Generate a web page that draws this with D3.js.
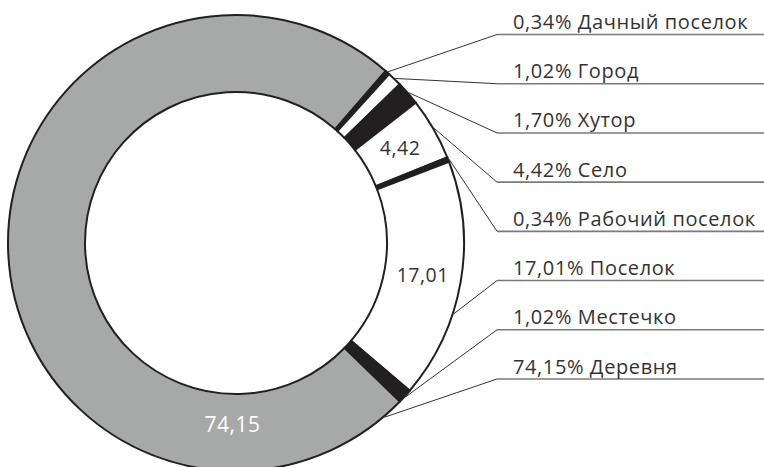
<!DOCTYPE html>
<html>
<head>
<meta charset="utf-8">
<script src="https://cdn.jsdelivr.net/npm/d3@7"></script>
<style>
  body { margin: 0; background: #fff; }
  svg text { font-family: "Open Sans", sans-serif; }
</style>
</head>
<body>
<svg id="chart" width="764" height="467"></svg>
<script>
// data (order clockwise from the top-right)
var names  = ["Дачный поселок", "Город", "Хутор", "Село", "Рабочий поселок", "Поселок", "Местечко", "Деревня"];
var shares = [0.34, 1.02, 1.70, 4.42, 0.34, 17.01, 1.02, 74.15];
var fills  = ["#231f20", "#ffffff", "#231f20", "#ffffff", "#231f20", "#ffffff", "#231f20", "#a7a9a9"];
// slices that carry their value inside the ring
var inside = ["Село", "Поселок", "Деревня"];

var fmt = function(v) { return v.toFixed(2).replace(".", ","); };
var rad = function(deg) { return deg * Math.PI / 180; };

var svg = d3.select("#chart");
var cx = 236, cy = 243, rOut = 228, rIn = 151;
var start = rad(41);

var pie = d3.pie().sort(null).value(function(d) { return d; })
    .startAngle(start).endAngle(start + 2 * Math.PI);
var arcs = pie(shares);

var arc = d3.arc().innerRadius(rIn).outerRadius(rOut);

var g = svg.append("g").attr("transform", "translate(" + cx + "," + cy + ")");

g.selectAll("path.slice")
  .data(arcs)
  .enter().append("path")
    .attr("class", "slice")
    .attr("d", arc)
    .attr("fill", function(d, i) { return fills[i]; })
    .attr("stroke", "#231f20")
    .attr("stroke-width", 2)
    .attr("stroke-linejoin", "miter");

// values inside the ring
g.selectAll("text.val")
  .data(arcs.filter(function(d, i) { return inside.indexOf(names[i]) >= 0; }))
  .enter().append("text")
    .attr("class", "val")
    .attr("transform", function(d) {
        var c = arc.centroid(d);
        if (names[d.index] == "Деревня") {
            // the big value sits at the bottom of the ring
            var a = rad(181.1), r = 181;
            c = [r * Math.sin(a), -r * Math.cos(a)];
        }
        return "translate(" + c[0] + "," + c[1] + ")";
    })
    .attr("text-anchor", "middle")
    .attr("dy", "0.36em")
    .attr("font-size", function(d) { return names[d.index] == "Деревня" ? 21 : 19.5; })
    .attr("letter-spacing", 0.5)
    .attr("fill", function(d) { return names[d.index] == "Деревня" ? "#ffffff" : "#333333"; })
    .text(function(d) { return fmt(d.value); });

// legend on the right with leader lines
var labelY = d3.scalePoint().domain(names).range([34.5, 379]);
var lineX0 = 497, textX = 513;

// where each leader touches the ring (mid angle, a few moved by hand in the original)
function anchorAngle(d) {
    if (names[d.index] == "Поселок") return rad(108);
    if (names[d.index] == "Деревня") return rad(139.5);
    return (d.startAngle + d.endAngle) / 2;
}

var lg = svg.append("g");

lg.selectAll("line.under")
  .data(arcs)
  .enter().append("line")
    .attr("x1", lineX0).attr("x2", 764)
    .attr("y1", function(d) { return labelY(names[d.index]); })
    .attr("y2", function(d) { return labelY(names[d.index]); })
    .attr("stroke", "#7a7a7a")
    .attr("stroke-width", 1.6);

lg.selectAll("line.lead")
  .data(arcs)
  .enter().append("line")
    .attr("x1", function(d) { return cx + (rOut + 1) * Math.sin(anchorAngle(d)); })
    .attr("y1", function(d) { return cy - (rOut + 1) * Math.cos(anchorAngle(d)); })
    .attr("x2", lineX0)
    .attr("y2", function(d) { return labelY(names[d.index]); })
    .attr("stroke", "#333333")
    .attr("stroke-width", 1);

lg.selectAll("text.lab")
  .data(arcs)
  .enter().append("text")
    .attr("x", textX)
    .attr("y", function(d) { return labelY(names[d.index]) - 5.5; })
    .attr("font-size", 20)
    .attr("letter-spacing", 0.6)
    .attr("fill", "#333333")
    .text(function(d) { return fmt(d.value) + "% " + names[d.index]; });
</script>
</body>
</html>
